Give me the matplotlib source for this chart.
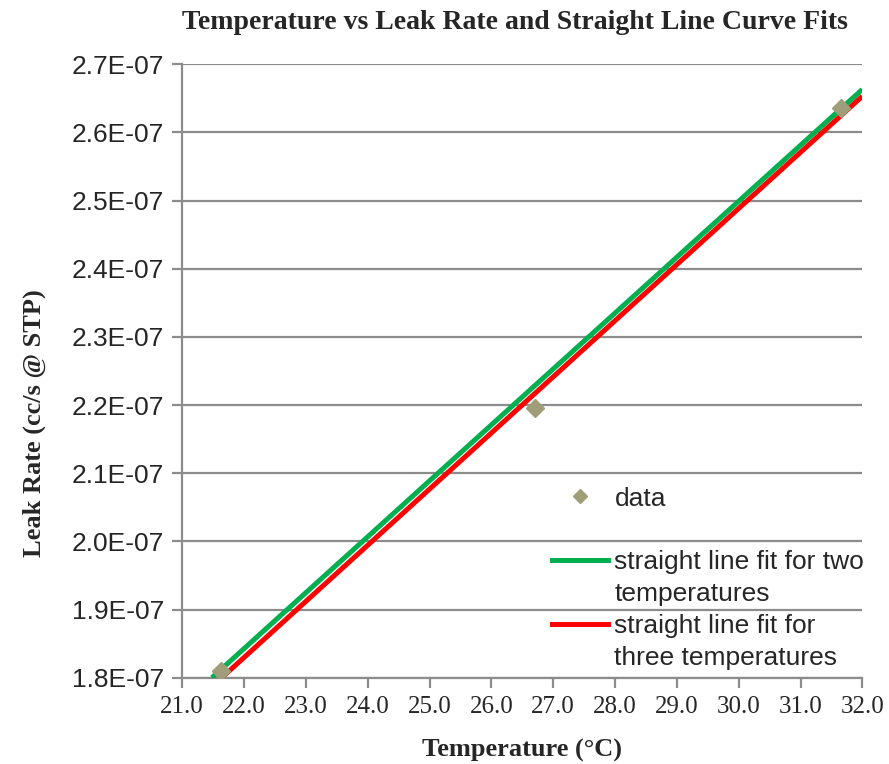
import numpy as np
import matplotlib
matplotlib.use("Agg")
import matplotlib.pyplot as plt
from matplotlib.lines import Line2D
from matplotlib.ticker import FuncFormatter, MultipleLocator

# measured points
temp = [21.63, 26.7, 31.66]
leak = [1.81e-07, 2.196e-07, 2.636e-07]

# straight line fits (end points)
fit2_x = [21.48, 32.0]
fit2_y = [1.80e-07, 2.663e-07]
fit3_x = [21.64, 32.0]
fit3_y = [1.80e-07, 2.653e-07]

plt.rcParams['font.family'] = ['Liberation Sans', 'DejaVu Sans']

fig = plt.figure(figsize=(8.89, 7.64), dpi=100)
ax = fig.add_axes([0.205, 0.113, 0.765, 0.803])

txt = '#262626'
grey = '#8c8c8c'

ax.plot(fit2_x, fit2_y, color='#00B050', lw=3.6, solid_capstyle='butt', zorder=3)
ax.plot(fit3_x, fit3_y, color='#FF0000', lw=3.6, solid_capstyle='butt', zorder=3)
ax.plot(temp, leak, ls='none', marker='D', ms=9, color='#A09E78', zorder=4)

ax.set_xlim(21.0, 32.0)
ax.set_ylim(1.8e-07, 2.7e-07)
ax.xaxis.set_major_locator(MultipleLocator(1.0))
ax.yaxis.set_major_locator(MultipleLocator(0.1e-07))
ax.xaxis.set_major_formatter(FuncFormatter(lambda v, p: f"{v:.1f}"))
ax.yaxis.set_major_formatter(FuncFormatter(lambda v, p: f"{v:.1E}"))

ax.grid(axis='y', color=grey, lw=1.6)
ax.set_axisbelow(True)
for s in ['top', 'right']:
    ax.spines[s].set_visible(False)
for s in ['left', 'bottom']:
    ax.spines[s].set_color(grey)
    ax.spines[s].set_linewidth(1.6)
ax.tick_params(direction='out', length=7, width=1.6, color=grey,
               labelsize=19, labelcolor=txt, pad=6)
ax.tick_params(axis='x', labelsize=18)
for t in ax.get_xticklabels():
    t.set_fontfamily('Liberation Serif')

serif = {'family': 'Liberation Serif', 'weight': 'bold', 'size': 19, 'color': txt}
fig.text(0.579, 0.971, 'Temperature vs Leak Rate and Straight Line Curve Fits',
         ha='center', va='center', fontdict=dict(serif, size=20))
ax.set_xlabel('Temperature (°C)', fontdict=serif, labelpad=15)
ax.set_ylabel('Leak Rate (cc/s @ STP)', fontdict=serif, labelpad=12)
ax.yaxis.set_label_coords(-0.2, 0.415)

# legend rows: handles sit on the first line of each wrapped label
blank = Line2D([], [], color='none')
handles = [Line2D([], [], ls='none', marker='D', ms=7, color='#A09E78'),
           blank,
           Line2D([], [], color='#00B050', lw=3.6),
           blank,
           Line2D([], [], color='#FF0000', lw=3.6),
           blank]
labels = ['data', ' ', 'straight line fit for two', 'temperatures',
          'straight line fit for', 'three temperatures']
leg = ax.legend(handles, labels, loc='upper left', bbox_to_anchor=(0.525, 0.333),
                frameon=False, fontsize=19, handlelength=2.1,
                handletextpad=0.25, labelspacing=0.3, borderpad=0)
for t in leg.get_texts():
    t.set_color(txt)

fig.savefig('out.png', dpi=100)
